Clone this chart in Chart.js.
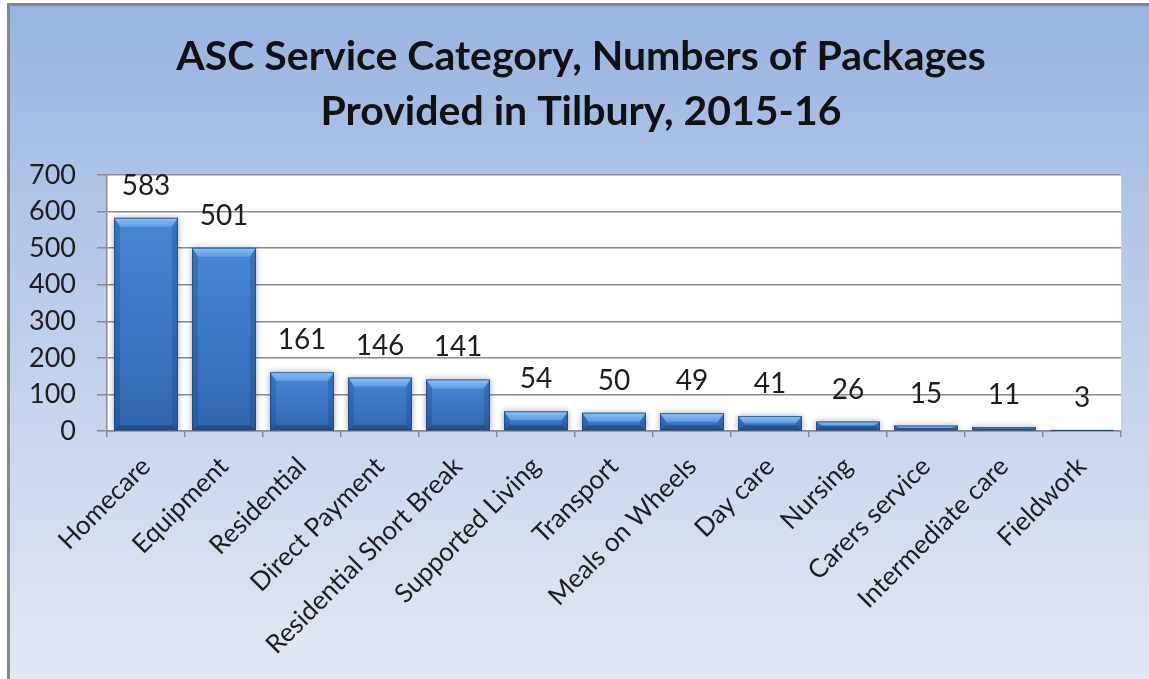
<!DOCTYPE html>
<html>
<head>
<meta charset="utf-8">
<script src="https://cdn.jsdelivr.net/npm/chart.js@4.4.1/dist/chart.umd.min.js"></script>
<style>
  html, body { margin: 0; padding: 0; background: #fff; }
  canvas { display: block; }
</style>
</head>
<body>
<canvas id="chart" width="1149" height="679"></canvas>
<script>
// Service categories and number of packages provided
const categories = [
  'Homecare', 'Equipment', 'Residential', 'Direct Payment', 'Residential Short Break',
  'Supported Living', 'Transport', 'Meals on Wheels', 'Day care', 'Nursing',
  'Carers service', 'Intermediate care', 'Fieldwork'
];
const packages = [583, 501, 161, 146, 141, 54, 50, 49, 41, 26, 15, 11, 3];
const yTickValues = [0, 100, 200, 300, 400, 500, 600, 700];
const titleLines = ['ASC Service Category, Numbers of Packages', 'Provided in Tilbury, 2015-16'];

const FONT = 'Lato, "Open Sans", "DejaVu Sans", sans-serif';
const TEXT = '#1e1e1e';
const GRID = '#8a8a8a';

// Framed gradient panel and white plot area behind everything
const panelPlugin = {
  id: 'panel',
  beforeDraw(chart) {
    const { ctx, width, height, chartArea: a } = chart;
    ctx.save();
    ctx.fillStyle = '#ffffff';
    ctx.fillRect(0, 0, width, height);
    const g = ctx.createLinearGradient(0, 4, 0, height);
    g.addColorStop(0, '#98b3e1');
    g.addColorStop(0.45, '#bccde9');
    g.addColorStop(1, '#e2e8f4');
    ctx.fillStyle = g;
    ctx.fillRect(8, 3, width - 8, height - 3);
    ctx.strokeStyle = '#888888';
    ctx.lineWidth = 3;
    ctx.beginPath();
    ctx.moveTo(8.5, height);
    ctx.lineTo(8.5, 4.5);
    ctx.lineTo(width, 4.5);
    ctx.stroke();
    ctx.fillStyle = '#ffffff';
    ctx.fillRect(a.left, a.top, a.right - a.left, a.bottom - a.top);
    ctx.strokeStyle = '#d0d0d0';
    ctx.lineWidth = 1;
    ctx.beginPath();
    ctx.moveTo(a.right + 0.5, a.top);
    ctx.lineTo(a.right + 0.5, a.bottom);
    ctx.stroke();
    ctx.restore();
  }
};

// Two-line heading centred over the panel
const headingPlugin = {
  id: 'heading',
  afterDraw(chart) {
    const ctx = chart.ctx;
    ctx.save();
    ctx.font = 'bold 41px ' + FONT;
    ctx.fillStyle = '#111111';
    ctx.textAlign = 'center';
    ctx.textBaseline = 'alphabetic';
    const cx = 581;
    ctx.fillText(titleLines[0], cx, 70);
    ctx.fillText(titleLines[1], cx, 125);
    ctx.restore();
  }
};

// Soft shadow under the bars, then a bevel on each one
const bevelPlugin = {
  id: 'bevel',
  beforeDatasetsDraw(chart) {
    const ctx = chart.ctx;
    ctx.save();
    ctx.shadowColor = 'rgba(0,0,0,0.35)';
    ctx.shadowBlur = 6;
    ctx.shadowOffsetX = 0;
    ctx.shadowOffsetY = 0;
  },
  afterDatasetsDraw(chart) {
    const ctx = chart.ctx;
    ctx.restore();
    const meta = chart.getDatasetMeta(0);
    ctx.save();
    meta.data.forEach(bar => {
      const { x, y, base, width } = bar.getProps(['x', 'y', 'base', 'width'], true);
      const l = x - width / 2, r = x + width / 2, t = y, b = base;
      const h = b - t;
      if (h <= 0) return;
      const tb = Math.min(9, h / 2);
      const bb = Math.min(5, h / 2);
      const sw = Math.min(6, width / 2);
      // top bevel
      const tg = ctx.createLinearGradient(0, t, 0, t + tb);
      tg.addColorStop(0, '#8cc2f5');
      tg.addColorStop(1, '#5d9ce4');
      ctx.fillStyle = tg;
      ctx.beginPath();
      ctx.moveTo(l, t); ctx.lineTo(r, t);
      ctx.lineTo(r - sw, t + tb); ctx.lineTo(l + sw, t + tb);
      ctx.closePath(); ctx.fill();
      // side bevels
      ctx.fillStyle = 'rgba(20,55,110,0.25)';
      ctx.beginPath();
      ctx.moveTo(l, t); ctx.lineTo(l + sw, t + tb);
      ctx.lineTo(l + sw, b - bb); ctx.lineTo(l, b);
      ctx.closePath(); ctx.fill();
      ctx.beginPath();
      ctx.moveTo(r, t); ctx.lineTo(r - sw, t + tb);
      ctx.lineTo(r - sw, b - bb); ctx.lineTo(r, b);
      ctx.closePath(); ctx.fill();
      // bottom bevel
      ctx.fillStyle = 'rgba(15,40,90,0.4)';
      ctx.beginPath();
      ctx.moveTo(l, b); ctx.lineTo(r, b);
      ctx.lineTo(r - sw, b - bb); ctx.lineTo(l + sw, b - bb);
      ctx.closePath(); ctx.fill();
      // outline
      ctx.strokeStyle = 'rgba(30,70,130,0.75)';
      ctx.lineWidth = 1;
      ctx.strokeRect(l + 0.5, t + 0.5, width - 1, Math.max(h - 1, 0));
    });
    ctx.restore();
  }
};

// Value labels above each bar
const valueLabelPlugin = {
  id: 'valueLabels',
  afterDatasetsDraw(chart) {
    const ctx = chart.ctx;
    const meta = chart.getDatasetMeta(0);
    const values = chart.data.datasets[0].data;
    ctx.save();
    ctx.font = '28px ' + FONT;
    ctx.fillStyle = TEXT;
    ctx.textAlign = 'center';
    ctx.textBaseline = 'middle';
    meta.data.forEach((bar, i) => {
      const { x, y } = bar.getProps(['x', 'y'], true);
      ctx.fillText(String(values[i]), x, y - 32);
    });
    ctx.restore();
  }
};

new Chart(document.getElementById('chart'), {
  type: 'bar',
  data: {
    labels: categories,
    datasets: [{
      data: packages,
      backgroundColor(context) {
        const chart = context.chart;
        const area = chart.chartArea;
        if (!area) return '#3b78c8';
        const yScale = chart.scales.y;
        const top = yScale.getPixelForValue(packages[context.dataIndex]);
        const bottom = yScale.getPixelForValue(0);
        if (!(bottom > top)) return '#3b78c8';
        const g = chart.ctx.createLinearGradient(0, top, 0, bottom);
        g.addColorStop(0, '#4688d5');
        g.addColorStop(0.5, '#3c77c5');
        g.addColorStop(1, '#3066ad');
        return g;
      },
      borderWidth: 0,
      barPercentage: 0.82,
      categoryPercentage: 1.0
    }]
  },
  options: {
    responsive: false,
    animation: false,
    layout: { padding: { left: 20, right: 28, top: 175, bottom: 0 } },
    plugins: {
      legend: { display: false },
      tooltip: { enabled: false },
      title: { display: false }
    },
    scales: {
      x: {
        afterFit(scale) { scale.height = 248; },
        grid: {
          offset: true,
          drawOnChartArea: false,
          drawTicks: true,
          tickLength: 6,
          color: GRID,
          lineWidth: 1.5
        },
        border: { display: true, color: GRID, width: 1.5 },
        ticks: {
          autoSkip: false,
          maxRotation: 45,
          minRotation: 45,
          padding: 14,
          color: TEXT,
          font: { family: FONT, size: 26 }
        }
      },
      y: {
        min: 0,
        max: 700,
        afterFit(scale) { scale.width = 87; },
        afterBuildTicks(scale) { scale.ticks = yTickValues.map(v => ({ value: v })); },
        grid: { color: GRID, lineWidth: 1.5, tickLength: 10 },
        border: { display: true, color: GRID, width: 1.5 },
        ticks: {
          padding: 21,
          color: TEXT,
          font: { family: FONT, size: 27 }
        }
      }
    }
  },
  plugins: [panelPlugin, bevelPlugin, valueLabelPlugin, headingPlugin]
});
</script>
</body>
</html>
